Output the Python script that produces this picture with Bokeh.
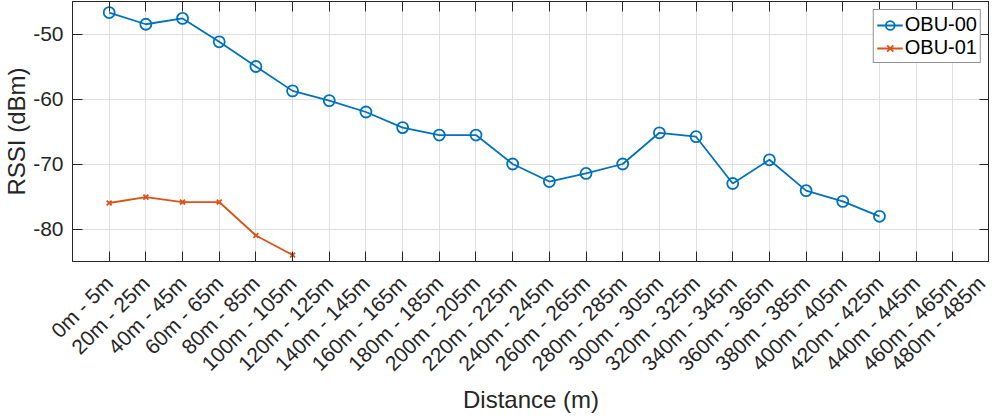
from bokeh.plotting import figure
from bokeh.models import Range1d, FixedTicker, LinearAxis, Legend, LegendItem
from bokeh.embed import file_html
from bokeh.resources import INLINE
import math

categories = ["0m - 5m", "20m - 25m", "40m - 45m", "60m - 65m", "80m - 85m",
              "100m - 105m", "120m - 125m", "140m - 145m", "160m - 165m", "180m - 185m",
              "200m - 205m", "220m - 225m", "240m - 245m", "260m - 265m", "280m - 285m",
              "300m - 305m", "320m - 325m", "340m - 345m", "360m - 365m", "380m - 385m",
              "400m - 405m", "420m - 425m", "440m - 445m", "460m - 465m", "480m - 485m"]
obu00 = [-46.7, -48.5, -47.6, -51.2, -55.0, -58.75, -60.25, -62.0, -64.4, -65.55,
         -65.55, -70.0, -72.7, -71.45, -70.0, -65.2, -65.8, -73.0, -69.35, -74.1,
         -75.75, -78.05]
obu01 = [-76.0, -75.1, -75.85, -75.85, -81.0, -84.0]
y_ticks = [-80, -70, -60, -50]
y_limits = (-85, -45)

BLUE = "#0072BD"
ORANGE = "#D95319"
TXT = "#262626"
FONT = "Liberation Sans"

positions = list(range(1, len(categories) + 1))

p = figure(width=989, height=416, output_backend="svg", toolbar_location=None,
           x_range=Range1d(0, len(categories)), y_range=Range1d(*y_limits),
           min_border_left=63, min_border_right=0, min_border_top=1, min_border_bottom=140,
           x_axis_label="Distance (m)", y_axis_label="RSSI (dBm)")
p.outline_line_color = TXT
p.outline_line_width = 1
p.background_fill_color = "white"
p.border_fill_color = "white"

xt = FixedTicker(ticks=positions)
yt = FixedTicker(ticks=y_ticks)
p.xaxis.ticker = xt
p.yaxis.ticker = yt
p.xaxis.major_label_overrides = {pos: c for pos, c in zip(positions, categories)}
p.xaxis.major_label_orientation = math.pi / 4
p.yaxis.major_label_overrides = {v: str(v) for v in y_ticks}

for ax in (p.xaxis[0], p.yaxis[0]):
    ax.major_tick_in = 10
    ax.major_tick_out = 0
    ax.minor_tick_in = 0
    ax.minor_tick_out = 0
    ax.axis_line_color = TXT
    ax.major_tick_line_color = TXT
    ax.major_label_text_font = FONT
    ax.major_label_text_font_size = "21px"
    ax.major_label_text_color = TXT
    ax.axis_label_text_font = FONT
    ax.axis_label_text_font_size = "24px"
    ax.axis_label_text_font_style = "normal"
    ax.axis_label_text_color = TXT
p.yaxis.major_label_standoff = 9
p.xaxis.major_label_standoff = 18
p.yaxis.axis_label_standoff = 0
p.xaxis.axis_label_standoff = 0

top = LinearAxis(ticker=xt, major_tick_in=10, major_tick_out=0, minor_tick_in=0, minor_tick_out=0,
                 major_label_text_font_size="1px", major_label_text_color=None, major_label_standoff=0,
                 axis_line_color=TXT, major_tick_line_color=TXT)
right = LinearAxis(ticker=yt, major_tick_in=10, major_tick_out=0, minor_tick_in=0, minor_tick_out=0,
                   major_label_text_font_size="1px", major_label_text_color=None, major_label_standoff=0,
                   axis_line_color=TXT, major_tick_line_color=TXT)
p.add_layout(top, "above")
p.add_layout(right, "right")

p.xgrid.grid_line_color = "#dfdfdf"
p.ygrid.grid_line_color = "#dfdfdf"
p.xgrid.ticker = xt
p.ygrid.ticker = yt

x0 = positions[:len(obu00)]
x1 = positions[:len(obu01)]
l0 = p.line(x0, obu00, line_color=BLUE, line_width=1.8)
m0 = p.scatter(x0, obu00, marker="circle", size=11, fill_color=None, line_color=BLUE, line_width=1.8)
l1 = p.line(x1, obu01, line_color=ORANGE, line_width=1.8)
m1 = p.scatter(x1, obu01, marker="x", size=7, line_color=ORANGE, line_width=1.8)

legend = Legend(items=[LegendItem(label="OBU-00", renderers=[l0, m0]),
                       LegendItem(label="OBU-01", renderers=[l1, m1])],
                location="top_right", margin=8, padding=3, spacing=0,
                glyph_width=26, glyph_height=22, label_height=22, label_standoff=2,
                label_text_font=FONT, label_text_font_size="20px", label_text_color="black",
                border_line_color=TXT, border_line_width=1, background_fill_alpha=1)
p.add_layout(legend)

open("out.html", "w").write(file_html(p, INLINE))
